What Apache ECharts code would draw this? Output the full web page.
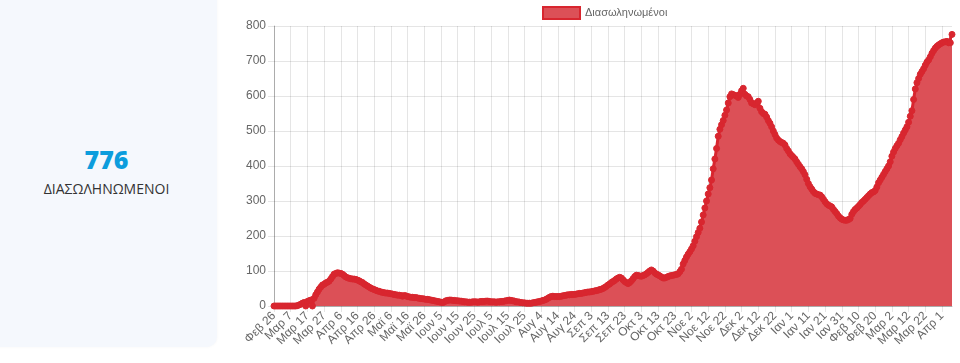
<!DOCTYPE html>
<html>
<head>
<meta charset="utf-8">
<script src="https://cdn.jsdelivr.net/npm/echarts@6/dist/echarts.min.js"></script>
<style>
  html, body { margin: 0; padding: 0; background: #ffffff; }
  #wrap { position: relative; width: 960px; height: 363px; overflow: hidden; }
  #card {
    position: absolute; left: -10px; top: -12px; width: 227px; height: 359px;
    background: #f5f8fd; border-radius: 10px;
    box-shadow: 0 0 3px rgba(0,0,0,0.04);
    font-family: "Open Sans", "Noto Sans", sans-serif; text-align: center;
  }
  #num { position: absolute; left: 10px; width: 213px; top: 156px; font-size: 25px; font-weight: 800; color: #0c9ddd; line-height: 30px; }
  #lbl { position: absolute; left: 10px; width: 213px; top: 191px; font-size: 14px; color: #333; line-height: 20px; }
  #chart { position: absolute; left: 0; top: 0; width: 960px; height: 363px; }
</style>
</head>
<body>
<div id="wrap">
  <div id="card"><div id="num">776</div><div id="lbl">ΔΙΑΣΩΛΗΝΩΜΕΝΟΙ</div></div>
  <div id="chart"></div>
</div>
<script>
// Category dates: daily from 26 Feb 2020 (Greek short month names)
const monthNames = ['Ιαν','Φεβ','Μαρ','Απρ','Μαϊ','Ιουν','Ιουλ','Αυγ','Σεπ','Οκτ','Νοε','Δεκ'];
const startDate = Date.UTC(2020, 1, 26);
const dayCount = 407;
const seriesName = 'Διασωληνωμένοι';
const yTicks = [0, 100, 200, 300, 400, 500, 600, 700, 800];

// Intubated patients, by period
const wave1 = [
  0,0,0,0,0,0,0,0,0,0,
  0,0,0,0,1,3,5,8,10,0,
  13,15,17,0,22,32,40,48,54,60,
  62,66,68,71,77,84,91,93,95,94,
  93,91,87,83,81,79,78,77,77,76,
  74,72,69,67,63,60,57,54,51,49,
  47,45,43,42,40,39,38,37,37,36,
  35,34,33,32,31,31,30,28,30,29,
  27,26,25,25,24,24,23,22,21,21,
  20,19,19,18,17,16,15,14,13,12
];
const summer = [
  11,10,12,15,16,17,17,16,16,15,
  15,14,14,13,12,12,11,11,11,12,
  12,12,11,12,13,13,13,14,14,13,
  12,12,12,11,12,12,13,13,14,15,
  16,17,16,15,14,12,12,11,10,9,
  9,8,8,8,8,9,10,11,12,13,
  14,16,17,19,22,25,27,28,27,27,
  27,27,28,29,30,31,32,32,33,33,
  33,34,35,36,36,37,38,39,40,40,
  41,42,43,44,45,47,48,50,53,56
];
const autumn = [
  60,63,67,70,73,77,80,82,80,75,
  70,67,64,67,72,78,84,88,87,86,
  85,87,89,92,96,100,103,100,95,91,
  89,86,83,80,80,82,84,86,87,88,
  89,90,92,98,105,120,130,140,148,155,
  163,172,185,198,210,222,240,260,280,300,
  320,338,360,392,420,450,485,505,518,530,
  545,560,580,598,606,604,602,600,596,605,
  615,622,605,600,598,590,580,578,575,580,
  585,565,555,550,548,540,530,522,512,500
];
const winter = [
  490,480,474,470,467,465,460,450,443,435,
  430,425,420,412,405,398,392,384,375,362,
  350,341,334,327,322,320,318,317,312,305,
  298,292,288,286,283,276,270,264,257,252,
  248,246,245,245,247,250,262,270,276,280,
  285,290,296,300,305,310,315,320,324,326,
  330,340,352,360,368,376,384,392,400,412,
  428,440,450,458,465,475,484,494,503,512,
  525,542,558,590,620,638,650,662,670,678,
  688,697,703,712,722,730,737,742,746,749,
  752,754,755,756,752,752,776
];

const values = wave1.concat(summer, autumn, winter);
const categories = [];
for (let i = 0; i < dayCount; i++) {
  const d = new Date(startDate + i * 86400000);
  categories.push(monthNames[d.getUTCMonth()] + ' ' + d.getUTCDate());
}

const lineColor = '#d8262f';
const fillColor = '#dc5057';
const gridColor = 'rgba(0,0,0,0.1)';

const chart = echarts.init(document.getElementById('chart'), null, { renderer: 'canvas' });
chart.setOption({
  animation: false,
  backgroundColor: 'transparent',
  textStyle: { fontFamily: '"Liberation Sans", Arial, sans-serif' },
  legend: {
    top: 6, left: 542, padding: 0,
    icon: 'rect', itemWidth: 37, itemHeight: 12, itemGap: 10,
    textStyle: { color: '#666', fontSize: 11, fontFamily: '"Liberation Sans", Arial, sans-serif' },
    itemStyle: { color: fillColor, borderColor: lineColor, borderWidth: 2 },
    data: [seriesName]
  },
  grid: { left: 274, right: 8, top: 26, bottom: 57, containLabel: false },
  xAxis: {
    type: 'category',
    data: categories,
    boundaryGap: false,
    axisLine: { show: true, lineStyle: { color: 'rgba(0,0,0,0.25)', width: 1 } },
    axisTick: { show: true, interval: 9, length: 6, lineStyle: { color: gridColor } },
    axisLabel: { interval: 9, rotate: 45, color: '#666', fontSize: 12, margin: 8, fontFamily: '"Liberation Sans", Arial, sans-serif' },
    splitLine: { show: true, interval: 9, lineStyle: { color: gridColor, width: 1 } }
  },
  yAxis: {
    type: 'value',
    min: yTicks[0], max: yTicks[yTicks.length - 1], interval: 100,
    axisLine: { show: true, lineStyle: { color: 'rgba(0,0,0,0.25)', width: 1 } },
    axisTick: { show: true, length: 6, lineStyle: { color: gridColor } },
    axisLabel: { color: '#666', fontSize: 12, margin: 8, fontFamily: '"Liberation Sans", Arial, sans-serif' },
    splitLine: { show: true, lineStyle: { color: gridColor, width: 1 } }
  },
  series: [{
    name: seriesName,
    type: 'line',
    data: values,
    showAllSymbol: true,
    symbol: 'circle',
    symbolSize: 6,
    lineStyle: { color: lineColor, width: 3 },
    itemStyle: { color: lineColor, borderColor: lineColor, borderWidth: 1 },
    areaStyle: { color: fillColor, opacity: 1, origin: 'start' },
    z: 3
  }]
});
</script>
</body>
</html>
